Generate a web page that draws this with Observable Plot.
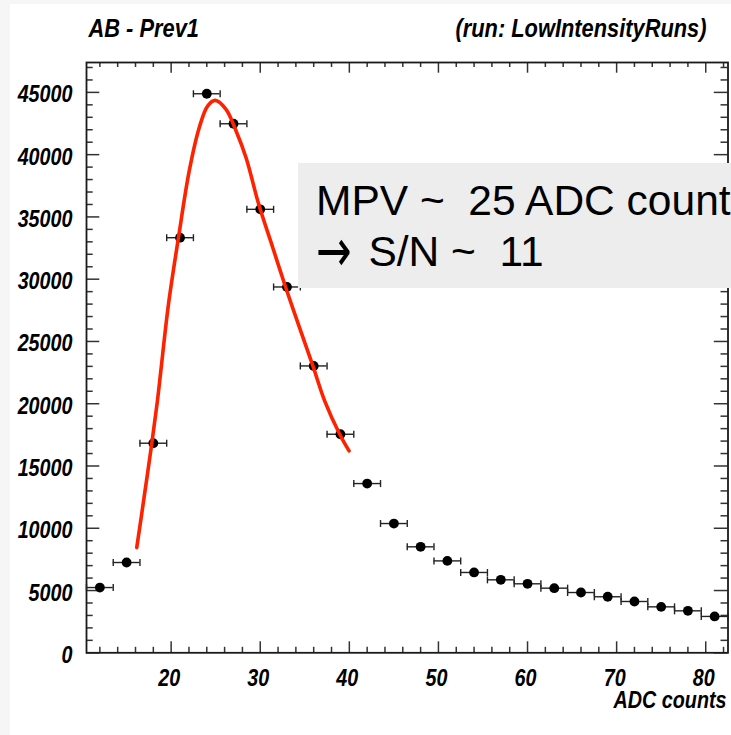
<!DOCTYPE html>
<html>
<head>
<meta charset="utf-8">
<script src="https://cdn.jsdelivr.net/npm/d3@7"></script>
<script src="https://cdn.jsdelivr.net/npm/@observablehq/plot@0.6"></script>
<style>
  html, body { margin: 0; padding: 0; }
  body { background: #f6f6f6; width: 731px; height: 735px; overflow: hidden; position: relative; }
  #chart { position: absolute; left: 10px; top: 4px; width: 721px; height: 731px; background: #fff; }
  #note { position: absolute; left: 298px; top: 163px; width: 433px; height: 125px; background: #ededed; overflow: hidden;
          font-family: "Liberation Sans", Arial, sans-serif; font-size: 42.5px; line-height: 50.6px;
          color: #000; white-space: pre; box-sizing: border-box; padding: 13.4px 0 0 18px; }
  #note .arrow { font-family: "DejaVu Sans", sans-serif; display: inline-block; transform: scale(1, 1.4); margin-right: 5px; }
</style>
</head>
<body>
<div id="chart"></div>
<div id="note"><div>MPV ~  25 ADC counts</div><div><span class="arrow">→</span> S/N ~  11</div></div>
<script>
// ---- data ----
const adc = [12, 15, 18, 21, 24, 27, 30, 33, 36, 39, 42, 45, 48, 51, 54, 57, 60, 63, 66, 69, 72, 75, 78, 81];
const counts = [5240, 7250, 16830, 33330, 44890, 42480, 35610, 29375, 23035, 17550, 13590, 10380,
                8510, 7380, 6450, 5860, 5540, 5190, 4840, 4500, 4120, 3690, 3370, 2920];
const binHalfWidth = 1.5;

const fitAdc = [16.14, 16.96, 17.83, 18.46, 18.84, 19.70, 20.82, 22.03, 23.15, 24.09, 24.95, 26.16,
                27.29, 28.41, 29.83, 31.41, 32.84, 34.41, 35.91, 37.23, 38.92, 39.97];
const fitCounts = [8450, 12460, 16830, 20230, 22630, 27990, 33330, 38690, 42160, 43900, 44360, 43640,
                   41900, 39750, 36010, 32530, 29375, 26110, 23035, 20230, 17550, 16210];

const xMajorTicks = [20, 30, 40, 50, 60, 70, 80];
const xTickLabels = ["20", "30", "40", "50", "60", "70", "80"];
const yMajorTicks = [0, 5000, 10000, 15000, 20000, 25000, 30000, 35000, 40000, 45000];
const yTickLabels = ["0", "5000", "10000", "15000", "20000", "25000", "30000", "35000", "40000", "45000"];

const titleLeft = "AB - Prev1";
const titleRight = "(run: LowIntensityRuns)";
const xTitle = "ADC counts";

// ---- derived tables ----
const points = adc.map((x, i) => ({x, y: counts[i]}));
const fit = fitAdc.map((x, i) => ({x, y: fitCounts[i]}));
const xMinor = d3.range(12, 83, 2).filter(v => v % 10 !== 0);
const yMinor = d3.range(1000, 47001, 1000).filter(v => v % 5000 !== 0);

const W = 721, H = 731, mL = 76, mR = 3.5, mT = 58, mB = 82.7;
const iH = H - mT - mB, iW = W - mL - mR;
const font = "'Liberation Sans', Arial, sans-serif";
const tickStyle = {stroke: "#333", strokeWidth: 1.5};
const labelStyle = {fontSize: 23.5, fontWeight: "bold", fontStyle: "italic", fill: "#000", lineAnchor: "middle"};
const titleStyle = {...labelStyle, fontSize: 26};
const capSymbol = {draw(ctx) { ctx.moveTo(0, -3.5); ctx.lineTo(0, 3.5); }};

const chart = Plot.plot({
  width: W, height: H,
  marginLeft: mL, marginRight: mR, marginTop: mT, marginBottom: mB,
  x: {domain: [10.5, 82.5], axis: null},
  y: {domain: [0, 47400], axis: null},
  style: {background: "#fff", fontFamily: font, overflow: "visible"},
  marks: [
    // ticks (inward, on all four sides)
    Plot.ruleX(xMajorTicks, {x: d => d, insetTop: iH - 11, ...tickStyle}),
    Plot.ruleX(xMinor, {x: d => d, insetTop: iH - 5.5, ...tickStyle}),
    Plot.ruleX(xMajorTicks, {x: d => d, insetBottom: iH - 10.7, ...tickStyle}),
    Plot.ruleX(xMinor, {x: d => d, insetBottom: iH - 5, ...tickStyle}),
    Plot.ruleY(yMajorTicks, {y: d => d, insetRight: iW - 13.3, ...tickStyle}),
    Plot.ruleY(yMinor, {y: d => d, insetRight: iW - 6.7, ...tickStyle}),
    Plot.ruleY(yMajorTicks, {y: d => d, insetLeft: iW - 13.7, ...tickStyle}),
    Plot.ruleY(yMinor, {y: d => d, insetLeft: iW - 7, ...tickStyle}),
    Plot.frame({stroke: "#1a1a1a", strokeWidth: 1.8}),
    // error bars
    Plot.ruleY(points, {y: "y", x1: d => d.x - binHalfWidth, x2: d => d.x + binHalfWidth, stroke: "#222", strokeWidth: 1.4}),
    Plot.dot(points, {x: d => d.x - binHalfWidth, y: "y", symbol: capSymbol, fill: "none", stroke: "#222", strokeWidth: 1.4}),
    Plot.dot(points, {x: d => d.x + binHalfWidth, y: "y", symbol: capSymbol, fill: "none", stroke: "#222", strokeWidth: 1.4}),
    Plot.dot(points, {x: "x", y: "y", r: 4.9, fill: "#000", stroke: "none"}),
    // fit
    Plot.line(fit, {x: "x", y: "y", stroke: "#ff2200", strokeWidth: 3.6, curve: "catmull-rom"}),
    // tick labels
    Plot.text(yMajorTicks, {y: d => d, text: (d, i) => yTickLabels[i], frameAnchor: "left", textAnchor: "end", dx: -14, dy: 2.5, ...labelStyle}),
    Plot.text(xMajorTicks, {x: d => d, text: (d, i) => xTickLabels[i], frameAnchor: "bottom", textAnchor: "middle", dx: -2, dy: 26, ...labelStyle}),
    Plot.text([xTitle], {text: d => d, frameAnchor: "bottom-right", textAnchor: "end", dx: -1.5, dy: 47.5, ...labelStyle}),
    // titles
    Plot.text([titleLeft], {text: d => d, frameAnchor: "top-left", textAnchor: "start", dx: 2, dy: -33.8, ...titleStyle}),
    Plot.text([titleRight], {text: d => d, frameAnchor: "top-right", textAnchor: "end", dx: -21.5, dy: -33.8, ...titleStyle})
  ]
});
// condensed look of the original (narrow Helvetica): squeeze each label about its own anchor
chart.querySelectorAll("text").forEach(t => {
  const tr = t.getAttribute("transform") || "";
  t.setAttribute("transform", tr + " scale(0.84,1)");
});
document.getElementById("chart").appendChild(chart);
</script>
</body>
</html>
